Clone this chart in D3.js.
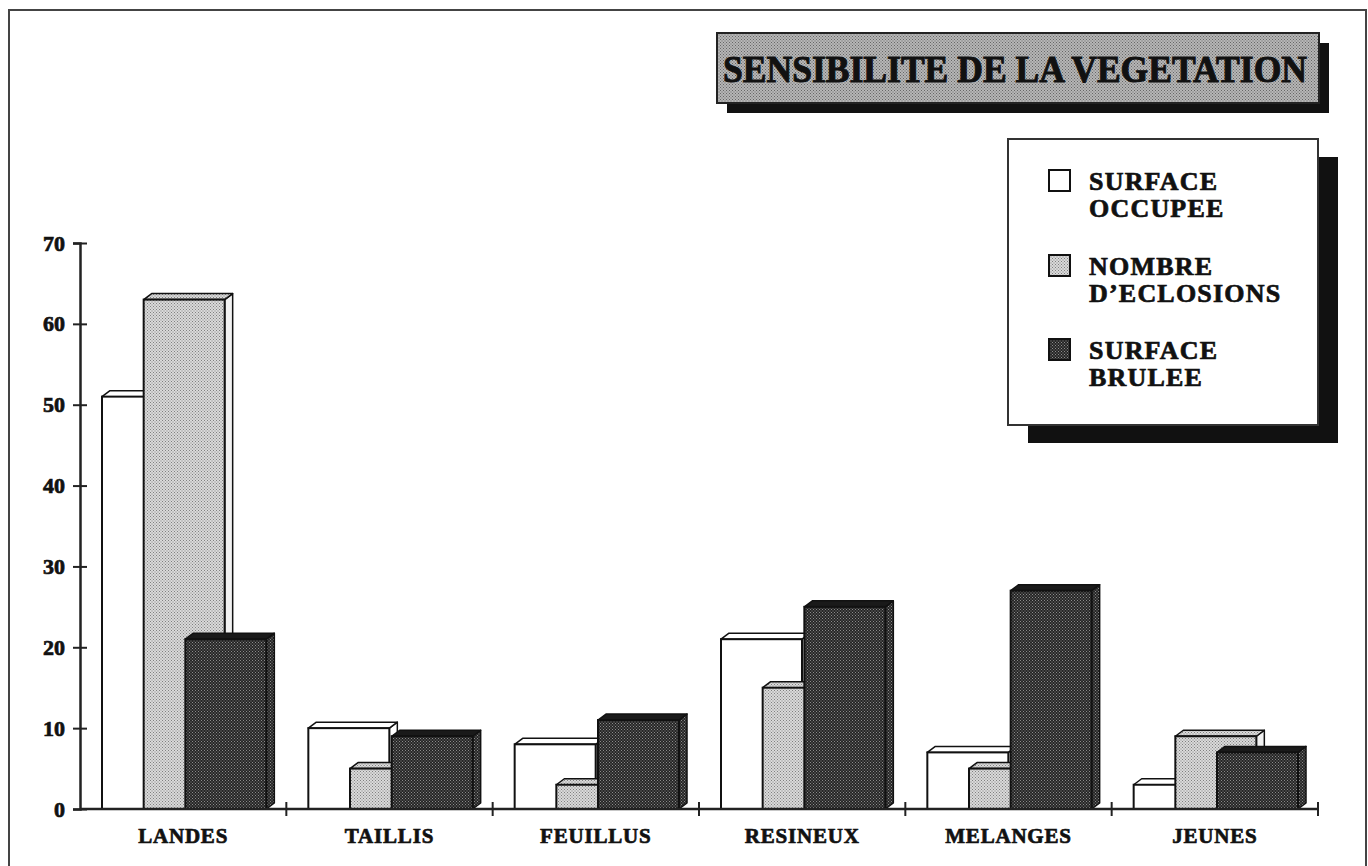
<!DOCTYPE html>
<html>
<head>
<meta charset="utf-8">
<script src="https://cdn.jsdelivr.net/npm/d3@7"></script>
<style>
  body { margin: 0; background: #fff; }
  svg { display: block; font-family: "Liberation Serif", "Times New Roman", serif; font-weight: bold; }
  .heavy { stroke: #111; stroke-width: 0.7px; paint-order: stroke; }
</style>
</head>
<body>
<svg id="chart"></svg>
<script>
const categories = ["LANDES", "TAILLIS", "FEUILLUS", "RESINEUX", "MELANGES", "JEUNES"];
const surfaceOccupee = [51, 10, 8, 21, 7, 3];
const nombreEclosions = [63, 5, 3, 15, 5, 9];
const surfaceBrulee = [21, 9, 11, 25, 27, 7];
const seriesKeys = ["occupee", "eclosions", "brulee"];
const legendLabels = [["SURFACE", "OCCUPEE"], ["NOMBRE", "D\u2019ECLOSIONS"], ["SURFACE", "BRULEE"]];
const yTicks = [0, 10, 20, 30, 40, 50, 60, 70];
const title = "SENSIBILITE DE LA VEGETATION";

const chartSize = { width: 1368, height: 866 };
const plot = { left: 80, right: 1318, top: 243, bottom: 809 };
const depth = { dx: 8, dy: 6 };
const barWidth = 81;

const series = [
  { key: "occupee", values: surfaceOccupee, front: "#ffffff", top: "#ffffff", side: "#ffffff" },
  { key: "eclosions", values: nombreEclosions, front: "url(#light)", top: "url(#light)", side: "#f2f2f2" },
  { key: "brulee", values: surfaceBrulee, front: "url(#dark)", top: "#1a1a1a", side: "url(#dark)" }
];

const svg = d3.select("#chart")
  .attr("width", chartSize.width)
  .attr("height", chartSize.height);

// stipple patterns, like the scanned dot screens
const defs = svg.append("defs");
const addPattern = (id, base, dot, size) => {
  const p = defs.append("pattern")
    .attr("id", id)
    .attr("width", size)
    .attr("height", size)
    .attr("patternUnits", "userSpaceOnUse");
  p.append("rect").attr("width", size).attr("height", size).attr("fill", base);
  p.append("rect").attr("width", 1).attr("height", 1).attr("fill", dot);
  p.append("rect").attr("x", size / 2).attr("y", size / 2).attr("width", 1).attr("height", 1).attr("fill", dot);
};
addPattern("light", "#dadada", "#808080", 3);
addPattern("dark", "#262626", "#8c8c8c", 3);
addPattern("titleFill", "#b6b6b6", "#666", 3);

// outer frame
svg.append("rect")
  .attr("x", 9).attr("y", 10)
  .attr("width", 1357).attr("height", 900)
  .attr("fill", "none")
  .attr("stroke", "#444")
  .attr("stroke-width", 2);

const y = d3.scaleLinear().domain([0, 70]).range([plot.bottom, plot.top]);
const x = d3.scaleBand().domain(categories).range([plot.left, plot.right]).padding(0);
const xs = d3.scaleBand().domain(seriesKeys).range([22, 147]).padding(0);

// bars: side face, top face, then front
const g = svg.append("g").attr("class", "bars");
series.forEach(s => {
  const bars = g.selectAll(`.bar-${s.key}`)
    .data(categories.map((c, i) => ({ cat: c, v: s.values[i] })))
    .enter()
    .append("g")
    .attr("class", `bar-${s.key}`);

  const x0 = d => x(d.cat) + xs(s.key);
  const y0 = y(0);

  bars.append("path")
    .attr("d", d => {
      const a = x0(d) + barWidth, t = y(d.v);
      return `M${a},${t}L${a + depth.dx},${t - depth.dy}L${a + depth.dx},${y0 - depth.dy}L${a},${y0}Z`;
    })
    .attr("fill", s.side)
    .attr("stroke", "#111")
    .attr("stroke-width", 1.5)
    .attr("stroke-linejoin", "round");

  bars.append("path")
    .attr("d", d => {
      const a = x0(d), t = y(d.v);
      return `M${a},${t}L${a + depth.dx},${t - depth.dy}L${a + barWidth + depth.dx},${t - depth.dy}L${a + barWidth},${t}Z`;
    })
    .attr("fill", s.top)
    .attr("stroke", "#111")
    .attr("stroke-width", 1.5)
    .attr("stroke-linejoin", "round");

  bars.append("rect")
    .attr("x", x0)
    .attr("y", d => y(d.v))
    .attr("width", barWidth)
    .attr("height", d => y0 - y(d.v))
    .attr("fill", s.front)
    .attr("stroke", "#111")
    .attr("stroke-width", 2);
});

// y axis with ticks crossing the line
const yAxis = d3.axisLeft(y).tickValues(yTicks).tickSize(7).tickPadding(8);
const ya = svg.append("g")
  .attr("class", "y-axis")
  .attr("transform", `translate(${plot.left},0)`)
  .call(yAxis);
ya.select(".domain").attr("stroke", "#222").attr("stroke-width", 2.5);
ya.selectAll(".tick line").attr("x1", 7).attr("x2", -7).attr("stroke", "#222").attr("stroke-width", 2);
ya.selectAll(".tick text")
  .attr("class", "heavy")
  .attr("font-family", "Liberation Serif")
  .attr("font-weight", "bold")
  .attr("font-size", 22)
  .attr("fill", "#111");

// x axis: ticks between categories, labels centered
const boundaries = categories.map(c => x(c) + x.bandwidth());
svg.append("line")
  .attr("x1", plot.left).attr("x2", plot.right)
  .attr("y1", y(0)).attr("y2", y(0))
  .attr("stroke", "#222").attr("stroke-width", 2.5);
svg.selectAll(".x-tick")
  .data(boundaries)
  .enter()
  .append("line")
  .attr("class", "x-tick")
  .attr("x1", d => d).attr("x2", d => d)
  .attr("y1", y(0) - 7).attr("y2", y(0) + 7)
  .attr("stroke", "#222").attr("stroke-width", 2);
svg.selectAll(".x-label")
  .data(categories)
  .enter()
  .append("text")
  .attr("class", "x-label heavy")
  .attr("x", d => x(d) + x.bandwidth() / 2)
  .attr("y", 843)
  .attr("text-anchor", "middle")
  .attr("font-size", 21)
  .attr("letter-spacing", 0.8)
  .attr("fill", "#111")
  .text(d => d);

// title box
svg.append("rect")
  .attr("x", 727).attr("y", 43)
  .attr("width", 602).attr("height", 70)
  .attr("fill", "#111");
svg.append("rect")
  .attr("x", 717).attr("y", 33)
  .attr("width", 602).attr("height", 70)
  .attr("fill", "url(#titleFill)")
  .attr("stroke", "#222")
  .attr("stroke-width", 2);
svg.append("text")
  .attr("class", "heavy")
  .attr("x", 723).attr("y", 82)
  .attr("font-size", 38)
  .attr("textLength", 584)
  .attr("lengthAdjust", "spacingAndGlyphs")
  .attr("fill", "#111")
  .style("stroke-width", "1px")
  .text(title);

// legend box
svg.append("rect")
  .attr("x", 1028).attr("y", 157)
  .attr("width", 310).attr("height", 286)
  .attr("fill", "#111");
svg.append("rect")
  .attr("x", 1008).attr("y", 139)
  .attr("width", 310).attr("height", 286)
  .attr("fill", "#fff")
  .attr("stroke", "#333")
  .attr("stroke-width", 2);

const legendFills = ["#ffffff", "url(#light)", "url(#dark)"];
const legendTops = [170, 255, 339];
const lg = svg.selectAll(".legend-item")
  .data(legendLabels)
  .enter()
  .append("g")
  .attr("class", "legend-item")
  .attr("transform", (d, i) => `translate(1049,${legendTops[i]})`);
lg.append("rect")
  .attr("width", 21).attr("height", 21)
  .attr("fill", (d, i) => legendFills[i])
  .attr("stroke", "#111")
  .attr("stroke-width", 2);
lg.selectAll("text")
  .data(d => d)
  .enter()
  .append("text")
  .attr("class", "heavy")
  .attr("x", 40)
  .attr("y", (d, i) => 20 + i * 27)
  .attr("font-size", 26)
  .attr("letter-spacing", 1.2)
  .attr("fill", "#111")
  .text(d => d);
</script>
</body>
</html>
